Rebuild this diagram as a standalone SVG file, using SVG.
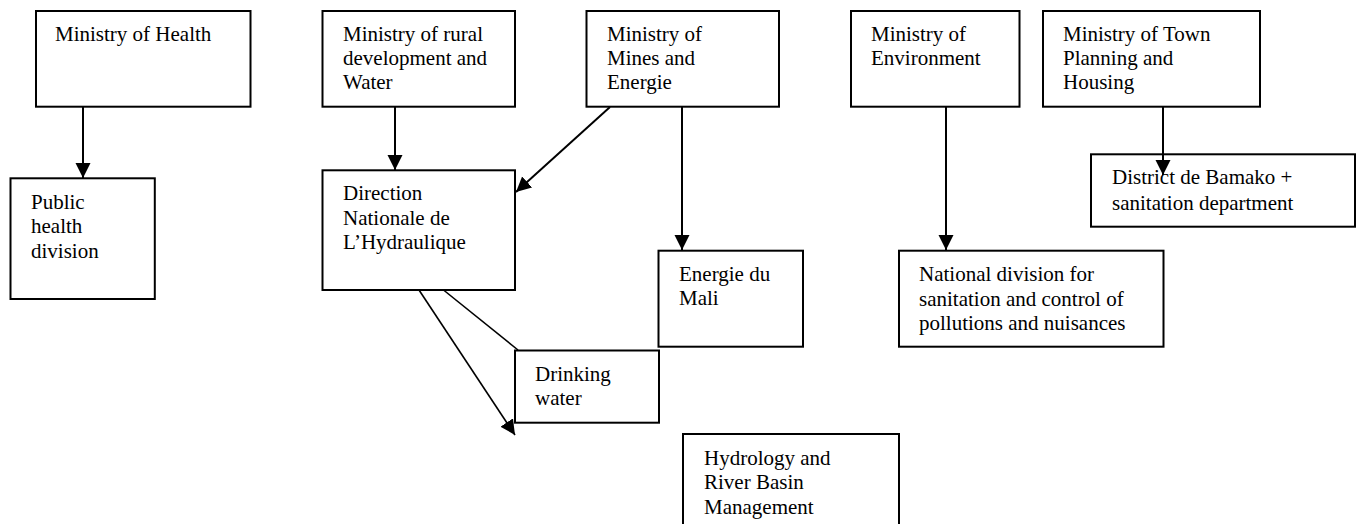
<svg xmlns="http://www.w3.org/2000/svg" width="1359" height="524" viewBox="0 0 1359 524">
<style>
.box{fill:#fff;stroke:#000;stroke-width:2}
.t{font-family:"Liberation Serif","Times New Roman",serif;font-size:21px;fill:#000}
.c{stroke:#000;stroke-width:2;fill:none}
.c2{stroke:#000;stroke-width:1.6;fill:none}
</style>
<defs>
<marker id="ah" markerUnits="userSpaceOnUse" markerWidth="16" markerHeight="16" refX="15" refY="7.5" orient="auto">
<path d="M0,0 L15,7.5 L0,15 z" fill="#000"/>
</marker>
</defs>
<rect width="1359" height="524" fill="#fff"/>
<g id="health">
<rect class="box" x="36" y="11" width="214.5" height="95.7"/>
<text class="t" x="55" y="41">Ministry of Health</text>
</g>
<g id="public-health">
<rect class="box" x="10.5" y="178.3" width="144.3" height="120.7"/>
<text class="t" x="31" y="209"><tspan x="31">Public</tspan><tspan x="31" dy="24.3">health</tspan><tspan x="31" dy="24.3">division</tspan></text>
</g>
<g id="rural">
<rect class="box" x="322.5" y="11" width="192.5" height="95.7"/>
<text class="t" x="343" y="41"><tspan x="343">Ministry of rural</tspan><tspan x="343" dy="24.2">development and</tspan><tspan x="343" dy="24.2">Water</tspan></text>
</g>
<g id="direction">
<rect class="box" x="322.5" y="170.3" width="192.5" height="119.7"/>
<text class="t" x="343" y="200"><tspan x="343">Direction</tspan><tspan x="343" dy="24.5">Nationale de</tspan><tspan x="343" dy="24.5">L’Hydraulique</tspan></text>
</g>
<g id="mines">
<rect class="box" x="586.5" y="11" width="192.5" height="95.7"/>
<text class="t" x="607" y="41"><tspan x="607">Ministry of</tspan><tspan x="607" dy="24.2">Mines and</tspan><tspan x="607" dy="24.2">Energie</tspan></text>
</g>
<g id="energie">
<rect class="box" x="658.5" y="250.7" width="144.5" height="96"/>
<text class="t" x="679" y="281"><tspan x="679">Energie du</tspan><tspan x="679" dy="24">Mali</tspan></text>
</g>
<g id="drinking">
<rect class="box" x="515" y="350.5" width="144" height="72.2"/>
<text class="t" x="535" y="381"><tspan x="535">Drinking</tspan><tspan x="535" dy="24">water</tspan></text>
</g>
<g id="hydrology">
<rect class="box" x="683" y="434" width="216" height="100"/>
<text class="t" x="704" y="465"><tspan x="704">Hydrology and</tspan><tspan x="704" dy="24.3">River Basin</tspan><tspan x="704" dy="24.3">Management</tspan></text>
</g>
<g id="environment">
<rect class="box" x="851" y="11" width="168.5" height="95.7"/>
<text class="t" x="871" y="41"><tspan x="871">Ministry of</tspan><tspan x="871" dy="24.2">Environment</tspan></text>
</g>
<g id="national">
<rect class="box" x="899" y="250.7" width="264.5" height="96"/>
<text class="t" x="919" y="281"><tspan x="919">National division for</tspan><tspan x="919" dy="24.5">sanitation and control of</tspan><tspan x="919" dy="24.5">pollutions and nuisances</tspan></text>
</g>
<g id="town">
<rect class="box" x="1043" y="11" width="217" height="95.7"/>
<text class="t" x="1063" y="41"><tspan x="1063">Ministry of Town</tspan><tspan x="1063" dy="24.2">Planning and</tspan><tspan x="1063" dy="24.2">Housing</tspan></text>
</g>
<g id="district">
<rect class="box" x="1091" y="154.3" width="264" height="72.4"/>
<text class="t" x="1112" y="184"><tspan x="1112">District de Bamako +</tspan><tspan x="1112" dy="26">sanitation department</tspan></text>
</g>
<g id="connectors">
<line class="c" x1="83" y1="107" x2="83" y2="178" marker-end="url(#ah)"/>
<line class="c" x1="395" y1="107" x2="395" y2="170" marker-end="url(#ah)"/>
<line class="c" x1="610" y1="107" x2="516" y2="192" marker-end="url(#ah)"/>
<line class="c" x1="682" y1="107" x2="682" y2="250" marker-end="url(#ah)"/>
<line class="c" x1="946" y1="107" x2="946" y2="250" marker-end="url(#ah)"/>
<line class="c" x1="1163" y1="107" x2="1163" y2="175" marker-end="url(#ah)"/>
<line class="c2" x1="419" y1="290" x2="515" y2="435" marker-end="url(#ah)"/>
<line class="c2" x1="443.5" y1="290" x2="518" y2="350"/>
</g>
</svg>
